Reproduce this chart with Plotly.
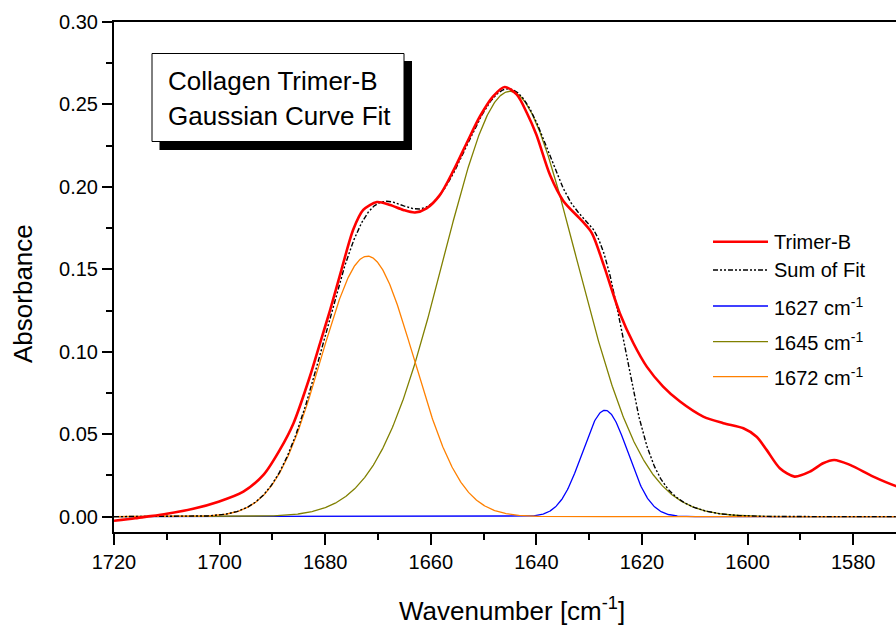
import numpy as np
import plotly.graph_objects as go

# Measured FTIR amide-I band of Trimer-B (wavenumber in cm^-1, absorbance)
wavenumber = [1720.0, 1716.0, 1713.8, 1710.0, 1705.0, 1700.2, 1695.5, 1691.7, 1688.6,
              1686.0, 1682.9, 1681.0, 1679.1, 1676.9, 1674.7, 1672.8, 1670.2, 1667.7,
              1665.2, 1663.0, 1660.8, 1658.3, 1655.7, 1653.2, 1650.7, 1648.2, 1646.0,
              1643.7, 1641.8, 1640.0, 1637.4, 1634.9, 1631.4, 1629.5, 1627.3, 1624.2,
              1621.6, 1619.1, 1616.0, 1612.8, 1608.4, 1604.6, 1600.8, 1598.3, 1596.4,
              1593.9, 1591.1, 1588.2, 1585.7, 1583.6, 1580.6, 1576.2, 1571.9, 1570.0]
absorbance = [-0.0025, -0.0010, 0.0000, 0.0018, 0.0048, 0.0091, 0.0152, 0.0253, 0.0405,
              0.0567, 0.0850, 0.1050, 0.1250, 0.1500, 0.1740, 0.1860, 0.1908, 0.1890,
              0.1860, 0.1845, 0.1870, 0.1950, 0.2100, 0.2266, 0.2427, 0.2549, 0.2606,
              0.2559, 0.2448, 0.2316, 0.2070, 0.1915, 0.1795, 0.1720, 0.1530, 0.1234,
              0.1050, 0.0910, 0.0789, 0.0698, 0.0607, 0.0567, 0.0536, 0.0485, 0.0405,
              0.0294, 0.0243, 0.0273, 0.0324, 0.0344, 0.0314, 0.0243, 0.0186, 0.0170]

# Fitted Gaussian components: centre (cm^-1), peak height, standard deviation (cm^-1)
peak_labels = ["1627", "1645", "1672"]
peak_centers = [1627.0, 1645.0, 1672.0]
peak_heights = [0.0645, 0.258, 0.158]
peak_sigmas = [4.3, 12.6, 8.8]
peak_colors = ["#0000FF", "#808000", "#FF8000"]

x_tick_values = [1720, 1700, 1680, 1660, 1640, 1620, 1600, 1580]
y_tick_values = [0.00, 0.05, 0.10, 0.15, 0.20, 0.25, 0.30]

FONT = "Arial, 'Liberation Sans', sans-serif"
W, H = 896, 626
ML, MT, MB, MR = 114, 22, 94, 0
PW, PH = W - ML - MR, H - MT - MB


def px(x):
    return (x - ML) / PW


def py(y):
    return (H - MB - y) / PH


grid = np.linspace(1720, 1570, 1201)
components = [h * np.exp(-((grid - c) ** 2) / (2 * s ** 2))
              for c, h, s in zip(peak_centers, peak_heights, peak_sigmas)]
fit_sum = np.sum(components, axis=0)

fig = go.Figure()

for lab, comp, col in zip(peak_labels, components, peak_colors):
    fig.add_trace(go.Scatter(x=grid, y=comp, mode="lines", name=f"{lab} cm<sup>-1</sup>",
                             line=dict(color=col, width=1.3), showlegend=False))

fig.add_trace(go.Scatter(x=grid, y=fit_sum, mode="lines", name="Sum of Fit",
                         line=dict(color="black", width=1.4, dash="5px,2px,2px,2px,2px,2px"),
                         showlegend=False))

fig.add_trace(go.Scatter(x=wavenumber, y=absorbance, mode="lines", name="Trimer-B",
                         line=dict(color="#FF0000", width=2.6, shape="spline", smoothing=0.8),
                         showlegend=False))

shapes = []
annotations = []

# Title box with drop shadow
shapes.append(dict(type="rect", xref="paper", yref="paper", layer="above",
                   x0=px(159.5), x1=px(412), y0=py(150), y1=py(61),
                   fillcolor="black", line=dict(width=0)))
shapes.append(dict(type="rect", xref="paper", yref="paper", layer="above",
                   x0=px(152), x1=px(404), y0=py(141.5), y1=py(53.5),
                   fillcolor="white", line=dict(color="black", width=1)))
annotations.append(dict(xref="paper", yref="paper", x=px(166), y=py(80.5),
                        xanchor="left", yanchor="middle", showarrow=False,
                        text="Collagen Trimer-B", font=dict(family=FONT, size=26, color="black")))
annotations.append(dict(xref="paper", yref="paper", x=px(166), y=py(115.5),
                        xanchor="left", yanchor="middle", showarrow=False,
                        text="Gaussian Curve Fit", font=dict(family=FONT, size=26, color="black")))

# Legend
legend_items = [("Trimer-B", dict(color="#FF0000", width=2.6), 241.7),
                ("Sum of Fit", dict(color="black", width=1.4, dash="5px,2px,2px,2px,2px,2px"), 270.0)]
for lab, col, yy in zip(peak_labels, peak_colors, [306.0, 341.7, 376.7]):
    legend_items.append((f"{lab} cm<sup>-1</sup>", dict(color=col, width=1.3), yy))
for text, line, yy in legend_items:
    shapes.append(dict(type="line", xref="paper", yref="paper", x0=px(713), x1=px(768),
                       y0=py(yy), y1=py(yy), line=line))
    annotations.append(dict(xref="paper", yref="paper", x=px(772), y=py(yy),
                            xanchor="left", yanchor="middle", showarrow=False, text=text,
                            font=dict(family=FONT, size=20, color="black")))

# Axis titles
annotations.append(dict(xref="paper", yref="paper", x=px(23), y=py(294), textangle=-90,
                        xanchor="center", yanchor="middle", showarrow=False, text="Absorbance",
                        font=dict(family=FONT, size=26, color="black")))
annotations.append(dict(xref="paper", yref="paper", x=px(512), y=py(609),
                        xanchor="center", yanchor="middle", showarrow=False,
                        text="Wavenumber [cm<sup>-1</sup>]",
                        font=dict(family=FONT, size=26, color="black")))

fig.update_layout(
    width=W, height=H,
    margin=dict(l=ML, r=MR, t=MT, b=MB, pad=0),
    paper_bgcolor="white", plot_bgcolor="white",
    font=dict(family=FONT, size=20, color="black"),
    shapes=shapes, annotations=annotations,
    showlegend=False,
)

fig.update_xaxes(
    range=[1720, 1720 - PW / 5.28], tickvals=x_tick_values,
    ticks="outside", ticklen=11, tickwidth=2, tickcolor="black",
    minor=dict(dtick=10, tick0=1720, ticks="outside", ticklen=6, tickwidth=2, tickcolor="black"),
    showline=True, linecolor="black", linewidth=2, mirror=True,
    showgrid=False, zeroline=False, tickfont=dict(family=FONT, size=20),
)
fig.update_yaxes(
    range=[-0.0093, 0.30], tickvals=y_tick_values, tickformat=".2f",
    ticks="outside", ticklen=10, tickwidth=2, tickcolor="black",
    minor=dict(dtick=0.025, tick0=0, ticks="outside", ticklen=6, tickwidth=2, tickcolor="black"),
    showline=True, linecolor="black", linewidth=2, mirror=False,
    showgrid=False, zeroline=False, tickfont=dict(family=FONT, size=20),
)

fig.write_html("out.html")
